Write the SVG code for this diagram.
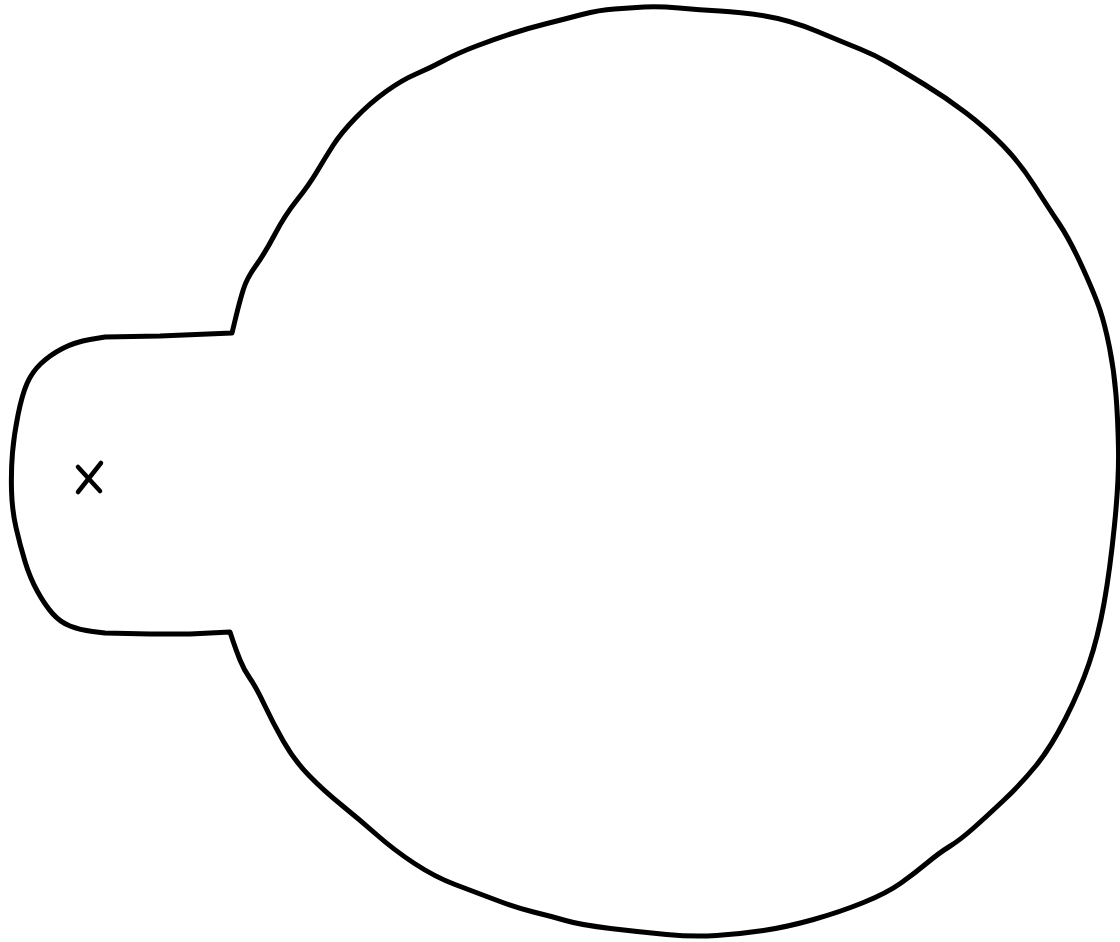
<svg xmlns="http://www.w3.org/2000/svg" width="1120" height="942" viewBox="0 0 1120 942">
<style>
.outline{fill:#ffffff;stroke:#000000;stroke-width:5;stroke-linejoin:round;stroke-linecap:round}
.mark{fill:none;stroke:#000000;stroke-width:4.5;stroke-linecap:round}
</style>
<rect width="1120" height="942" fill="#ffffff"/>
<g id="shape">
<path class="outline" d="M232,333 L236,316.5 Q240,300 243.5,289 Q247,278 256,265.5 Q265,253 275,234 Q285,215 297,200 Q309,185 317,171.5 Q325,158 333,145.5 Q341,133 355.5,118 Q370,103 386,91.5 Q402,80 416,74 Q430,68 444,60.5 Q458,53 476.5,46 Q495,39 512,33.5 Q529,28 547,23.5 Q565,19 582,14.5 Q599,10 614.5,9 Q630,8 644,7 Q658,6 679,8 Q700,10 720,11 Q740,12 765,16 Q790,20 817.5,31.5 Q845,43 860,49 Q875,55 889.5,63.5 Q904,72 924.5,84.5 Q945,97 965.5,112.5 Q986,128 1003,145.5 Q1020,163 1034,185 Q1048,207 1059,223.5 Q1070,240 1082.5,267.5 Q1095,295 1100,310 Q1105,325 1109.5,347.5 Q1114,370 1116,395 Q1118,420 1118.5,450 Q1119,480 1114.5,525 Q1110,570 1104,603.5 Q1098,637 1089,663.5 Q1080,690 1065.5,718.5 Q1051,747 1036.5,765 Q1022,783 1004,800 Q986,817 973,828.5 Q960,840 949.5,846.5 Q939,853 927,863 Q915,873 901,883 Q887,893 863.5,902.5 Q840,912 813.5,919.5 Q787,927 763.5,930.5 Q740,934 716.5,935.5 Q693,937 666.5,934.5 Q640,932 610.5,928.5 Q581,925 565.5,920.5 Q550,916 533.5,912 Q517,908 496,900 Q475,892 455,884.5 Q435,877 414.5,863.5 Q394,850 377,835 Q360,820 341.5,805 Q323,790 308.5,775 Q294,760 283.5,741.5 Q273,723 264.5,705 Q256,687 250,678.5 Q244,670 240,660 Q236,650 233,641 L230,632 L190,634 L150,634 L105,633 L92.5,631.5 Q80,630 70,626 Q60,622 52.5,613.5 Q45,605 37.5,591.5 Q30,578 25,561.5 Q20,545 16,527.5 Q12,510 11.5,490 Q11,470 12.5,452.5 Q14,435 18,415 Q22,395 27,383.5 Q32,372 41,363.5 Q50,355 62.5,348.5 Q75,342 90,339.5 L105,337 L160,336 Z"/>
</g>
<g id="center-mark">
<line class="mark" x1="78" y1="492" x2="101" y2="463"/>
<line class="mark" x1="78" y1="467" x2="100" y2="491"/>
</g>
</svg>
